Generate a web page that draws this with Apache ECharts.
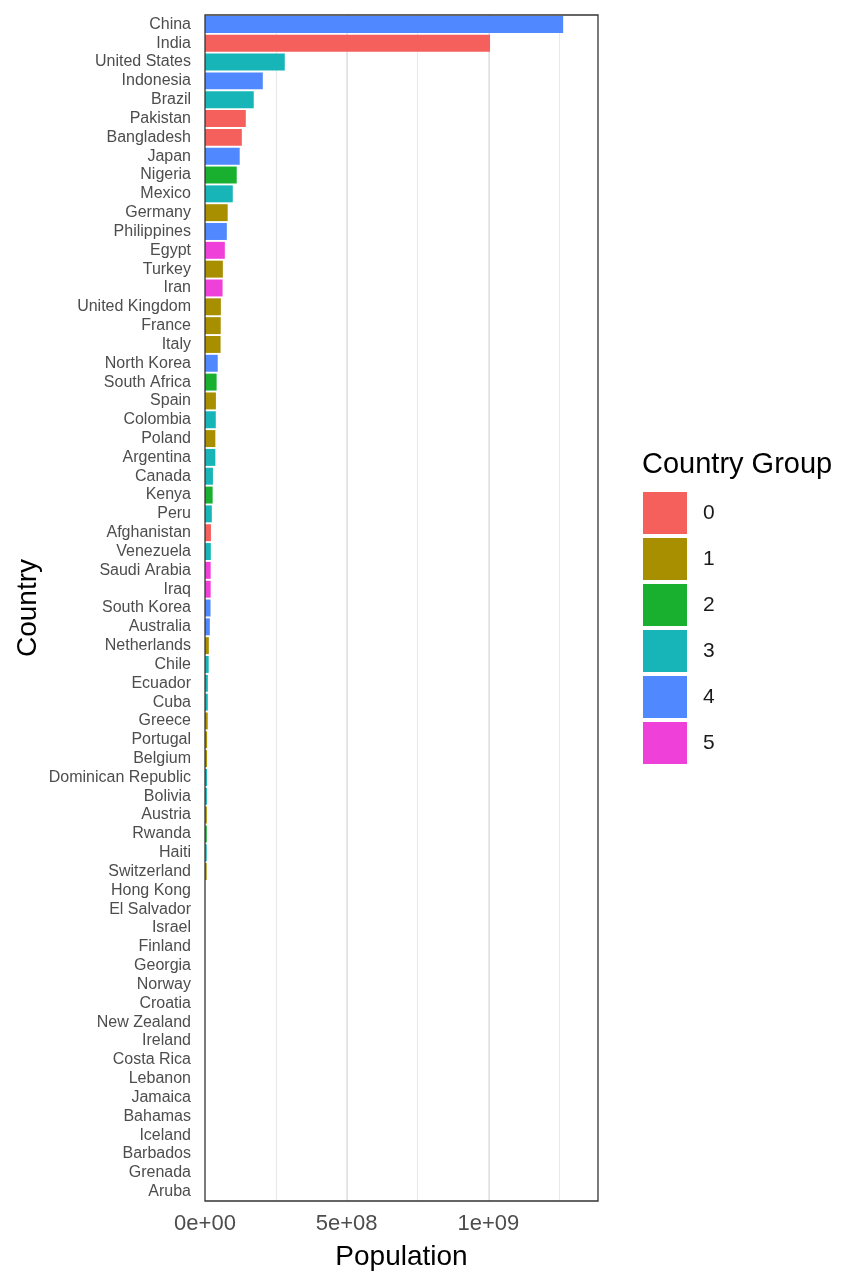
<!DOCTYPE html>
<html>
<head>
<meta charset="utf-8">
<script src="https://cdn.jsdelivr.net/npm/echarts@6/dist/echarts.min.js"></script>
<style>
html,body{margin:0;padding:0;background:#fff;}
#chart{width:864px;height:1286px;}
</style>
</head>
<body>
<div id="chart"></div>
<script>
const countries = ["China","India","United States","Indonesia","Brazil","Pakistan","Bangladesh","Japan","Nigeria","Mexico","Germany","Philippines","Egypt","Turkey","Iran","United Kingdom","France","Italy","North Korea","South Africa","Spain","Colombia","Poland","Argentina","Canada","Kenya","Peru","Afghanistan","Venezuela","Saudi Arabia","Iraq","South Korea","Australia","Netherlands","Chile","Ecuador","Cuba","Greece","Portugal","Belgium","Dominican Republic","Bolivia","Austria","Rwanda","Haiti","Switzerland","Hong Kong","El Salvador","Israel","Finland","Georgia","Norway","Croatia","New Zealand","Ireland","Costa Rica","Lebanon","Jamaica","Bahamas","Iceland","Barbados","Grenada","Aruba"];
const population = [1.264e9,1.006e9,2.815e8,2.04e8,1.72e8,1.44e8,1.30e8,1.225e8,1.12e8,9.8e7,8.0e7,7.7e7,7.0e7,6.3e7,6.2e7,5.6e7,5.55e7,5.5e7,4.5e7,4.1e7,3.85e7,3.8e7,3.65e7,3.65e7,2.8e7,2.7e7,2.4e7,2.1e7,2.05e7,2.0e7,2.0e7,1.95e7,1.7e7,1.35e7,1.3e7,1.0e7,9.8e6,9.6e6,7.5e6,7.2e6,7.0e6,6.8e6,6.6e6,6.4e6,6.2e6,6.0e6,0,0,0,0,0,0,0,0,0,0,0,0,0,0,0,0,0];
const groups = [4,0,3,4,3,0,0,4,2,3,1,4,5,1,5,1,1,1,4,2,1,3,1,3,3,2,3,0,3,5,5,4,4,1,3,3,3,1,1,1,3,3,1,2,3,1,4,3,5,1,1,1,1,4,1,3,5,3,3,1,3,3,3];
const groupNames = ["0","1","2","3","4","5"];
const groupColors = ["#F5605C","#A88F00","#19B030","#17B4B8","#5088FF","#F040DA"];
const xTickValues = [0, 5e8, 1e9];

function sciLabel(v){
  if (v === 0) return "0e+00";
  const e = Math.floor(Math.log10(Math.abs(v)) + 1e-9);
  const m = Math.round(v / Math.pow(10, e));
  return m + "e+" + (e < 10 ? "0" + e : e);
}

const chart = echarts.init(document.getElementById('chart'));
const FONT = "Liberation Sans, Arial, Helvetica, sans-serif";
const series = groupNames.map((g, gi) => ({
  name: g,
  type: 'bar',
  stack: 'all',
  xAxisIndex: 0,
  barCategoryGap: '10%',
  itemStyle: {color: groupColors[gi]},
  data: population.map((v, i) => groups[i] === gi ? v : null)
}));

chart.setOption({
  animation: false,
  backgroundColor: '#fff',
  textStyle: {fontFamily: FONT},
  title: {
    text: 'Country Group', left: 642, top: 450, padding: 0,
    textStyle: {fontSize: 29, fontWeight: 'normal', color: '#000', fontFamily: FONT}
  },
  legend: {
    orient: 'vertical', left: 643, top: 492, padding: 0,
    itemWidth: 44, itemHeight: 42, itemGap: 4, icon: 'rect',
    data: groupNames,
    textStyle: {fontSize: 21, color: '#1a1a1a', fontFamily: FONT, padding: [0,0,0,11]}
  },
  grid: {
    left: 205, right: 266, top: 15, bottom: 85, z: 5,
    show: true, borderColor: '#333', borderWidth: 1.3, backgroundColor: 'transparent'
  },
  xAxis: [{
    type: 'value', min: 0, max: 1.387e9, interval: 5e8,
    name: 'Population', nameLocation: 'middle', nameGap: 42,
    nameTextStyle: {fontSize: 28, color: '#000', fontFamily: FONT},
    axisLine: {show: false}, axisTick: {show: false},
    axisLabel: {fontSize: 22, color: '#4d4d4d', margin: 12, showMaxLabel: false,
      formatter: v => xTickValues.indexOf(v) >= 0 ? sciLabel(v) : ''},
    splitLine: {show: true, showMinLine: false, showMaxLine: false, lineStyle: {color: '#e2e2e2', width: 2}}
  }, {
    type: 'value', min: 0, max: 1.387e9, interval: 2.5e8, position: 'bottom',
    axisLine: {show: false}, axisTick: {show: false}, axisLabel: {show: false},
    splitLine: {show: true, showMinLine: false, showMaxLine: false, lineStyle: {color: '#e9e9e9', width: 1.1}}
  }],
  yAxis: {
    type: 'category', data: countries, inverse: true,
    name: 'Country', nameLocation: 'middle', nameGap: 163, nameRotate: 90,
    nameTextStyle: {fontSize: 28, color: '#000', fontFamily: FONT},
    axisLine: {show: false}, axisTick: {show: false},
    axisLabel: {fontSize: 16, color: '#4d4d4d', margin: 14, interval: 0},
    splitLine: {show: false}
  },
  series: series
});
</script>
</body>
</html>
